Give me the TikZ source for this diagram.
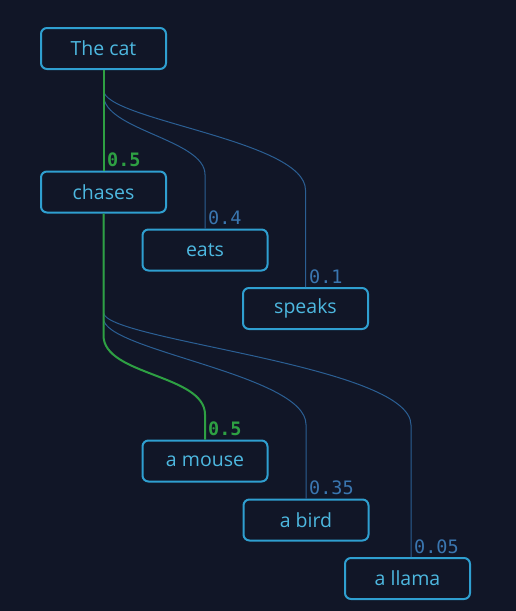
\documentclass[tikz,border=0pt]{standalone}
\usepackage{fontspec}
\setmainfont{Open Sans}
\newfontfamily\probfont{DejaVu Sans Mono}
\definecolor{bg}{HTML}{111627}
\definecolor{boxline}{HTML}{2F9FD0}
\definecolor{boxtext}{HTML}{4DB8E0}
\definecolor{thinline}{HTML}{2B5F94}
\definecolor{thintext}{HTML}{3A76B0}
\definecolor{pick}{HTML}{2EA043}
\begin{document}
\begin{tikzpicture}[x=1pt,y=-1pt,
    word/.style={draw=boxline,line width=2pt,rounded corners=6pt,
      minimum width=125pt,minimum height=41pt,text=boxtext,
      font=\fontsize{19.5}{21}\selectfont},
    prob/.style={anchor=base west,inner sep=0pt,text=thintext,
      font=\probfont\fontsize{18.5}{20}\selectfont},
    best/.style={prob,text=pick,font=\probfont\bfseries\fontsize{18.5}{20}\selectfont},
    edge/.style={thinline,line width=1pt},
    path/.style={pick,line width=2pt}]
      \useasboundingbox[fill=bg] (0,0) rectangle (516,611);
      \draw
        (103.5,48.5) node[word] (cat){The cat}
        (103.5,192) node[word] (chases){chases}
        (205,250) node[word] (eats){eats}
        (305.5,308.5) node[word] (speaks){speaks}
        (205,461) node[word] (mouse){a mouse}
        (306,520) node[word] (bird){a bird}
        (407.5,578.5) node[word] (llama){a llama};
      \begin{scope}[-]
        \draw[edge] (cat.south) -- ++(0,25) .. controls +(0,35) and +(0,-35) .. ([yshift=54pt]eats.north) -- (eats.north);
        \draw[edge] (cat.south) -- ++(0,20) .. controls +(0,30) and +(0,-50) .. ([yshift=97pt]speaks.north) -- (speaks.north);
        \draw[edge] (chases.south) -- ++(0,105) .. controls +(0,32) and +(0,-50) .. ([yshift=74pt]bird.north) -- (bird.north);
        \draw[edge] (chases.south) -- ++(0,99) .. controls +(0,28) and +(0,-60) .. ([xshift=3.5pt,yshift=132pt]llama.north) -- ([xshift=3.5pt]llama.north);
        \draw[path] (cat.south) -- (chases.north);
        \draw[path] (chases.south) -- ++(0,122) .. controls +(0,40) and +(0,-40) .. ([yshift=25pt]mouse.north) -- (mouse.north);
      \end{scope}
      \draw
        ([xshift=3.5pt,yshift=4pt]chases.north) node[best] (p1){0.5}
        ([xshift=3pt,yshift=4pt]eats.north) node[prob] (p2){0.4}
        ([xshift=3.5pt,yshift=4pt]speaks.north) node[prob] (p3){0.1}
        ([xshift=3pt,yshift=4pt]mouse.north) node[best] (p4){0.5}
        ([xshift=3pt,yshift=4pt]bird.north) node[prob] (p5){0.35}
        ([xshift=6.5pt,yshift=4pt]llama.north) node[prob] (p6){0.05};
    \end{tikzpicture}
\end{document}
